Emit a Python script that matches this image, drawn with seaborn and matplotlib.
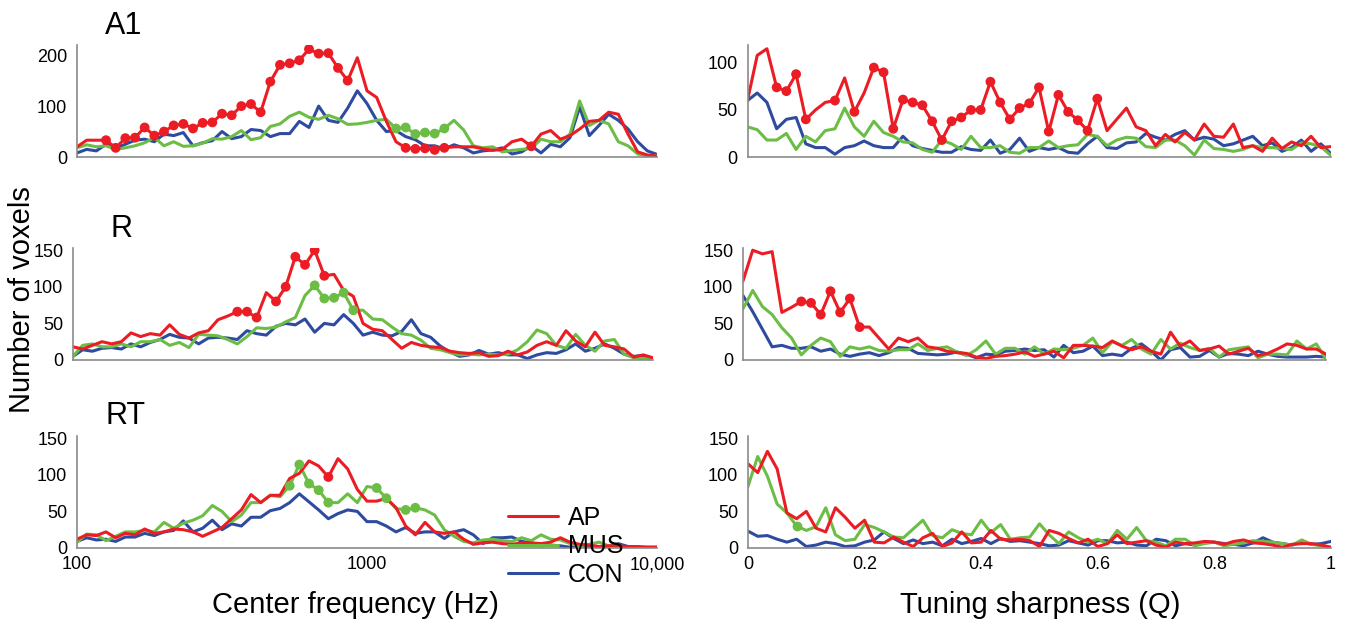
import numpy as np
import pandas as pd
import matplotlib
matplotlib.use("Agg")
import matplotlib.pyplot as plt
from matplotlib.lines import Line2D
from matplotlib.ticker import NullLocator
import seaborn as sns

# bin centres: 61 log-spaced frequencies (100 Hz - 10 kHz) and 61 Q values (0 - 1)
freq_hz = np.logspace(2, 4, 61)
q_vals = np.linspace(0, 1, 61)

groups = ["AP", "MUS", "CON"]
colors = {"AP": "#ec1c24", "MUS": "#6cbd45", "CON": "#2e4b9f"}

# ---- A1 ----
a1_freq_ap = [20, 33, 33, 33, 18, 37, 38, 58, 42, 50, 62, 65, 56, 67, 68, 85, 82, 100, 104, 88,
              148, 181, 184, 190, 212, 203, 204, 175, 150, 195, 130, 117, 70, 30, 18, 16, 17, 14, 18, 20,
              20, 20, 16, 13, 15, 30, 35, 21, 45, 52, 35, 42, 55, 70, 72, 88, 84, 45, 10, 4, 2]
a1_freq_mus = [18, 24, 20, 22, 15, 18, 22, 28, 38, 22, 30, 21, 22, 27, 36, 35, 40, 52, 34, 38,
               60, 65, 80, 88, 78, 74, 82, 75, 64, 65, 68, 72, 74, 56, 58, 45, 48, 46, 56, 72,
               53, 22, 18, 20, 10, 13, 15, 17, 35, 30, 30, 45, 110, 62, 72, 65, 30, 22, 6, 2, 3]
a1_freq_con = [8, 15, 12, 25, 18, 25, 33, 35, 30, 45, 42, 48, 22, 28, 32, 50, 36, 40, 54, 52,
               40, 46, 46, 70, 58, 100, 72, 68, 96, 130, 105, 72, 50, 52, 40, 34, 22, 22, 16, 24,
               18, 8, 12, 14, 18, 6, 10, 22, 8, 25, 20, 38, 98, 42, 62, 84, 72, 55, 30, 12, 5]
a1_freq_ap_sig = list(range(3, 29)) + [34, 35, 36, 37, 38, 47]
a1_freq_mus_sig = [33, 34, 35, 36, 37, 38]

a1_q_ap = [60, 108, 115, 74, 70, 88, 40, 50, 58, 60, 84, 48, 68, 95, 90, 30, 61, 58, 55, 38,
           18, 38, 42, 50, 50, 80, 58, 40, 52, 57, 74, 27, 66, 48, 39, 28, 62, 28, 40, 52,
           32, 28, 12, 24, 16, 26, 18, 35, 22, 21, 35, 10, 12, 6, 20, 9, 16, 12, 22, 10, 11]
a1_q_mus = [32, 29, 18, 18, 25, 8, 22, 16, 28, 30, 52, 32, 22, 38, 26, 22, 16, 15, 8, 5,
            18, 14, 8, 22, 10, 10, 12, 5, 4, 10, 10, 17, 10, 12, 13, 24, 22, 12, 18, 21,
            20, 11, 10, 18, 18, 12, 2, 18, 9, 8, 6, 8, 12, 10, 10, 9, 8, 15, 14, 11, 2]
a1_q_con = [60, 68, 58, 30, 40, 42, 14, 10, 10, 3, 10, 12, 17, 12, 10, 10, 22, 12, 9, 7,
            5, 5, 11, 8, 7, 18, 4, 8, 20, 6, 10, 8, 10, 5, 4, 14, 22, 10, 9, 15,
            16, 25, 21, 18, 24, 28, 18, 21, 19, 12, 14, 18, 22, 12, 15, 6, 10, 18, 6, 14, 4]
a1_q_ap_sig = [3, 4, 5, 6, 9, 11] + list(range(13, 37))
a1_q_mus_sig = []

# ---- R ----
r_freq_ap = [18, 15, 20, 25, 22, 25, 37, 32, 36, 34, 48, 35, 30, 37, 40, 55, 60, 66, 66, 58,
             92, 80, 100, 141, 130, 150, 115, 117, 95, 87, 50, 42, 40, 28, 16, 24, 20, 18, 17, 12,
             10, 9, 10, 5, 6, 12, 7, 11, 20, 25, 20, 40, 26, 18, 38, 20, 18, 15, 4, 7, 3]
r_freq_mus = [5, 20, 22, 18, 18, 22, 18, 25, 25, 28, 20, 24, 17, 35, 34, 33, 28, 22, 32, 44,
              43, 45, 52, 58, 88, 102, 84, 85, 92, 68, 68, 56, 55, 45, 36, 34, 27, 16, 14, 10,
              7, 8, 7, 8, 7, 8, 14, 25, 41, 36, 20, 16, 35, 20, 12, 26, 28, 8, 3, 2, 1]
r_freq_con = [5, 14, 12, 16, 17, 15, 22, 18, 24, 28, 35, 31, 30, 22, 30, 31, 30, 28, 40, 36,
              34, 46, 50, 48, 56, 38, 50, 48, 62, 50, 34, 38, 34, 33, 39, 55, 36, 31, 19, 11,
              5, 7, 13, 8, 10, 7, 7, 2, 7, 10, 9, 14, 22, 12, 16, 22, 16, 8, 5, 6, 2]
r_freq_ap_sig = [17, 18, 19, 21, 22, 23, 24, 25, 26]
r_freq_mus_sig = [25, 26, 27, 28, 29]

r_q_ap = [108, 150, 145, 148, 65, 72, 80, 78, 62, 94, 65, 84, 45, 45, 30, 15, 30, 25, 30, 18,
          16, 12, 10, 9, 4, 2, 5, 6, 8, 11, 5, 8, 12, 3, 20, 20, 19, 17, 26, 19,
          14, 18, 12, 8, 38, 19, 26, 13, 15, 19, 8, 12, 16, 6, 9, 15, 22, 20, 15, 15, 8]
r_q_mus = [70, 95, 73, 62, 44, 30, 7, 20, 30, 25, 5, 18, 15, 18, 13, 12, 14, 14, 22, 13,
           16, 18, 11, 6, 14, 26, 8, 16, 16, 8, 18, 8, 15, 14, 16, 20, 30, 10, 25, 20,
           28, 15, 8, 28, 15, 23, 17, 13, 16, 4, 14, 16, 18, 3, 8, 8, 7, 26, 15, 22, 1]
r_q_con = [88, 66, 42, 18, 20, 16, 16, 18, 12, 15, 8, 5, 8, 10, 6, 10, 17, 16, 9, 8,
           7, 8, 11, 8, 3, 8, 7, 12, 13, 15, 13, 14, 4, 20, 10, 12, 19, 6, 8, 6,
           16, 22, 12, 0, 14, 17, 4, 5, 13, 4, 9, 8, 6, 12, 8, 5, 4, 4, 4, 5, 4]
r_q_ap_sig = [6, 7, 8, 9, 10, 11, 12]
r_q_mus_sig = []

# ---- RT ----
rt_freq_ap = [12, 18, 17, 22, 14, 20, 18, 26, 20, 22, 26, 25, 22, 16, 22, 28, 40, 52, 73, 62,
              72, 72, 95, 102, 119, 112, 97, 122, 108, 80, 64, 64, 68, 55, 30, 18, 35, 22, 20, 22,
              12, 5, 7, 8, 6, 5, 7, 7, 6, 8, 14, 8, 5, 4, 2, 3, 3, 2, 1, 1, 1]
rt_freq_mus = [8, 19, 18, 10, 16, 22, 22, 24, 22, 35, 27, 34, 38, 44, 58, 50, 36, 45, 62, 62,
               72, 70, 85, 114, 88, 79, 62, 62, 74, 62, 84, 82, 68, 54, 52, 55, 52, 45, 25, 16,
               9, 7, 11, 12, 10, 9, 14, 10, 18, 12, 11, 6, 3, 5, 8, 3, 3, 1, 1, 1, 1]
rt_freq_con = [9, 14, 11, 12, 9, 15, 15, 20, 17, 22, 24, 37, 22, 27, 38, 25, 33, 30, 42, 42,
               51, 54, 62, 74, 63, 52, 40, 47, 52, 50, 36, 36, 30, 22, 28, 20, 22, 22, 13, 22,
               25, 18, 6, 14, 14, 15, 9, 7, 3, 4, 3, 1, 3, 2, 2, 2, 6, 2, 2, 1, 1]
rt_freq_ap_sig = [26]
rt_freq_mus_sig = [22, 23, 24, 25, 26, 31, 32, 34, 35]

rt_q_ap = [115, 103, 132, 108, 48, 40, 50, 27, 22, 55, 42, 27, 38, 8, 7, 15, 8, 2, 14, 20,
           2, 7, 22, 7, 8, 24, 12, 11, 12, 10, 2, 24, 20, 13, 7, 12, 2, 6, 18, 6,
           8, 10, 4, 1, 8, 6, 7, 9, 8, 5, 9, 11, 7, 6, 4, 1, 5, 6, 6, 4, 1]
rt_q_mus = [84, 125, 98, 60, 48, 30, 24, 29, 55, 18, 10, 12, 32, 28, 22, 15, 14, 26, 38, 17,
            14, 25, 20, 18, 38, 21, 32, 12, 14, 15, 33, 18, 6, 22, 14, 8, 12, 6, 24, 12,
            28, 10, 8, 3, 12, 12, 3, 6, 8, 3, 5, 7, 10, 9, 8, 6, 4, 11, 5, 3, 1]
rt_q_con = [23, 16, 17, 12, 8, 12, 2, 4, 8, 6, 2, 3, 8, 11, 22, 13, 6, 11, 6, 8,
            3, 12, 6, 9, 13, 6, 13, 9, 10, 8, 6, 3, 4, 10, 7, 4, 10, 10, 7, 8,
            4, 3, 12, 10, 3, 6, 4, 8, 8, 6, 5, 3, 7, 14, 8, 6, 4, 8, 5, 6, 9]
rt_q_ap_sig = []
rt_q_mus_sig = [5]


def panel_frame(x, ap, mus, con, ap_sig, mus_sig):
    idx = np.arange(len(x))
    parts = []
    for g, vals, sig in [("CON", con, []), ("MUS", mus, mus_sig), ("AP", ap, ap_sig)]:
        parts.append(pd.DataFrame({"x": x, "n": vals, "group": g, "sig": np.isin(idx, sig)}))
    return pd.concat(parts, ignore_index=True)


def draw(ax, df):
    sns.lineplot(data=df, x="x", y="n", hue="group", hue_order=["CON", "MUS", "AP"],
                 palette=colors, linewidth=2.2, estimator=None, sort=False,
                 legend=False, ax=ax)
    sig = df[df["sig"]]
    if len(sig):
        sns.scatterplot(data=sig, x="x", y="n", hue="group", hue_order=["CON", "MUS", "AP"],
                        palette=colors, s=50, linewidth=0, legend=False, ax=ax, zorder=5)
    ax.set_xlabel("")
    ax.set_ylabel("")
    for side in ["top", "right"]:
        ax.spines[side].set_visible(False)
    for side in ["left", "bottom"]:
        ax.spines[side].set_color("#8a8a8a")
        ax.spines[side].set_linewidth(1.2)
    ax.tick_params(direction="in", length=5, width=1, color="#8a8a8a",
                   labelsize=13, labelcolor="black")
    ax.tick_params(axis="y", pad=7)
    ax.tick_params(axis="x", pad=6)


sns.set_theme(style="white")
plt.rcParams["font.family"] = ["Liberation Sans", "DejaVu Sans"]
plt.rcParams["text.color"] = "black"

W, H = 1347, 623
fig = plt.figure(figsize=(W / 100, H / 100), dpi=100)


def px_axes(x0, x1, y_bottom, y_top):
    return fig.add_axes([x0 / W, 1 - y_bottom / H, (x1 - x0) / W, (y_bottom - y_top) / H])


rows = [
    dict(lx=77, rx=747.5, yb=157, yt=45, lyl=220, ryl=119, lyt=[0, 100, 200], ryt=[0, 50, 100],
         freq=(a1_freq_ap, a1_freq_mus, a1_freq_con, a1_freq_ap_sig, a1_freq_mus_sig),
         q=(a1_q_ap, a1_q_mus, a1_q_con, a1_q_ap_sig, a1_q_mus_sig)),
    dict(lx=73, rx=743, yb=360, yt=248, lyl=153, ryl=153, lyt=[0, 50, 100, 150], ryt=[0, 50, 100, 150],
         freq=(r_freq_ap, r_freq_mus, r_freq_con, r_freq_ap_sig, r_freq_mus_sig),
         q=(r_q_ap, r_q_mus, r_q_con, r_q_ap_sig, r_q_mus_sig)),
    dict(lx=77, rx=748, yb=548, yt=436, lyl=153, ryl=153, lyt=[0, 50, 100, 150], ryt=[0, 50, 100, 150],
         freq=(rt_freq_ap, rt_freq_mus, rt_freq_con, rt_freq_ap_sig, rt_freq_mus_sig),
         q=(rt_q_ap, rt_q_mus, rt_q_con, rt_q_ap_sig, rt_q_mus_sig)),
]

freq_ticks = 10 ** np.arange(2, 4.001, 0.2)
q_ticks = np.arange(0, 1.001, 0.1)

for i, r in enumerate(rows):
    bottom = i == len(rows) - 1
    axl = px_axes(r["lx"], r["lx"] + 580, r["yb"], r["yt"])
    draw(axl, panel_frame(freq_hz, *r["freq"]))
    axl.set_xscale("log")
    axl.set_xlim(100, 10000)
    axl.set_ylim(0, r["lyl"])
    axl.set_xticks(freq_ticks)
    axl.xaxis.set_minor_locator(NullLocator())
    if bottom:
        lab = {0: "100", 5: "1000", 10: "10,000"}
        axl.set_xticklabels([lab.get(k, "") for k in range(len(freq_ticks))])
    else:
        axl.set_xticklabels([])
    axl.set_yticks(r["lyt"])
    axl.set_yticklabels([str(v) for v in r["lyt"]])

    axr = px_axes(r["rx"], r["rx"] + 583, r["yb"], r["yt"])
    draw(axr, panel_frame(q_vals, *r["q"]))
    axr.set_xlim(0, 1)
    axr.set_ylim(0, r["ryl"])
    axr.set_xticks(q_ticks)
    if bottom:
        qlab = {0: "0", 2: "0.2", 4: "0.4", 6: "0.6", 8: "0.8", 10: "1"}
        axr.set_xticklabels([qlab.get(k, "") for k in range(len(q_ticks))])
    else:
        axr.set_xticklabels([])
    axr.set_yticks(r["ryt"])
    axr.set_yticklabels([str(v) for v in r["ryt"]])

# panel names
fig.text(105 / W, 1 - 26 / H, "A1", fontsize=22, va="center", ha="left")
fig.text(111 / W, 1 - 229 / H, "R", fontsize=22, va="center", ha="left")
fig.text(106 / W, 1 - 416 / H, "RT", fontsize=22, va="center", ha="left")

# axis titles
fig.text(355 / W, 1 - 605 / H, "Center frequency (Hz)", fontsize=21, ha="center", va="center")
fig.text(1040 / W, 1 - 605 / H, "Tuning sharpness (Q)", fontsize=21, ha="center", va="center")
fig.text(22 / W, 1 - 300 / H, "Number of voxels", fontsize=21, rotation=90,
         ha="center", va="center")

handles = [Line2D([0], [0], color=colors[g], lw=2.2, label=g) for g in groups]
fig.legend(handles=handles, loc="upper left", bbox_to_anchor=(508 / W, 1 - 506 / H),
           frameon=False, fontsize=18, handlelength=2.0, handletextpad=0.4,
           labelspacing=0.17, borderpad=0, borderaxespad=0)

fig.savefig("out.png", dpi=100)
plt.close(fig)
